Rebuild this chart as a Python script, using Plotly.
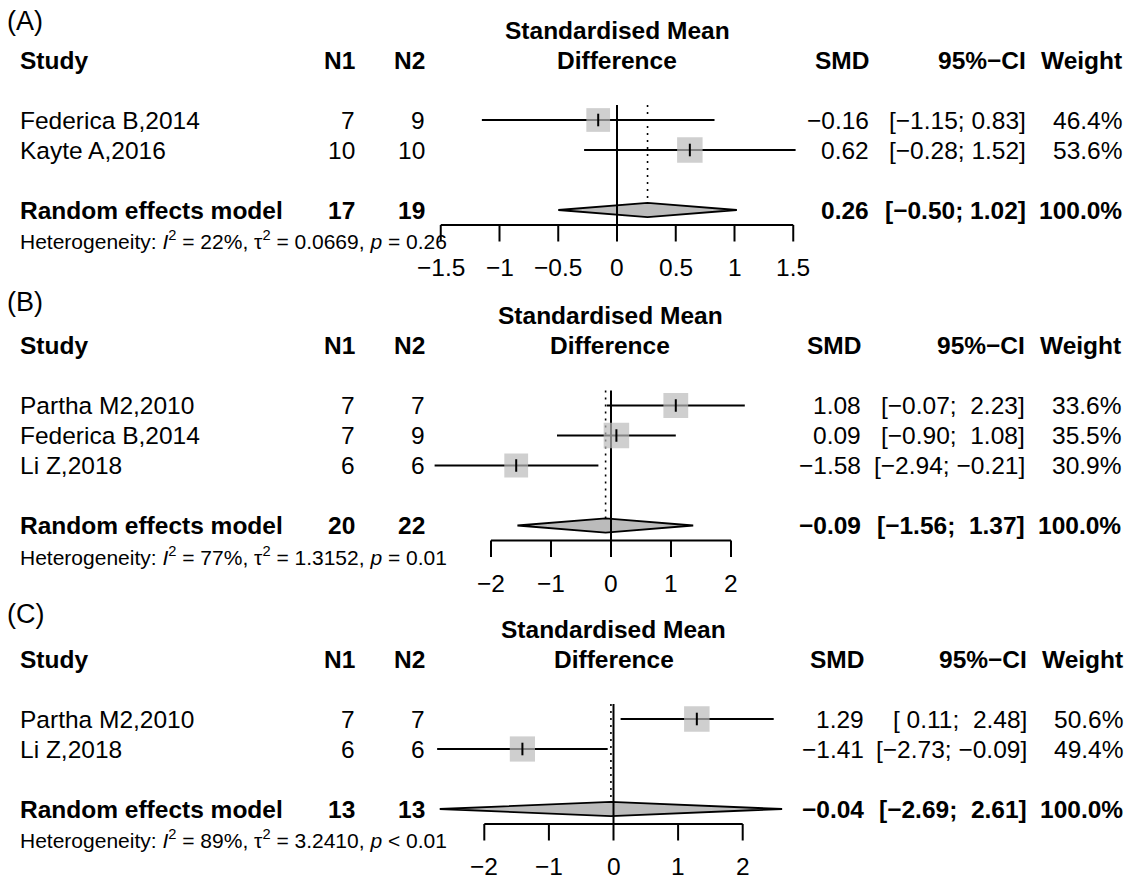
import plotly.graph_objects as go

# ---------------- data ----------------
# Panel A
a_studies = ["Federica B,2014", "Kayte A,2016"]
a_n1 = [7, 10]
a_n2 = [9, 10]
a_smd = [-0.16, 0.62]
a_lo = [-1.15, -0.28]
a_hi = [0.83, 1.52]
a_weight = [46.4, 53.6]
a_re = [0.26, -0.50, 1.02]
a_tot = [17, 19]
a_het = ["22%", "0.0669", "= 0.26"]
a_ticks = [-1.5, -1, -0.5, 0, 0.5, 1, 1.5]
a_ticklabels = ["−1.5", "−1", "−0.5", "0", "0.5", "1", "1.5"]

# Panel B
b_studies = ["Partha M2,2010", "Federica B,2014", "Li Z,2018"]
b_n1 = [7, 7, 6]
b_n2 = [7, 9, 6]
b_smd = [1.08, 0.09, -1.58]
b_lo = [-0.07, -0.90, -2.94]
b_hi = [2.23, 1.08, -0.21]
b_weight = [33.6, 35.5, 30.9]
b_re = [-0.09, -1.56, 1.37]
b_tot = [20, 22]
b_het = ["77%", "1.3152", "= 0.01"]
b_ticks = [-2, -1, 0, 1, 2]
b_ticklabels = ["−2", "−1", "0", "1", "2"]

# Panel C
c_studies = ["Partha M2,2010", "Li Z,2018"]
c_n1 = [7, 6]
c_n2 = [7, 6]
c_smd = [1.29, -1.41]
c_lo = [0.11, -2.73]
c_hi = [2.48, -0.09]
c_weight = [50.6, 49.4]
c_re = [-0.04, -2.69, 2.61]
c_tot = [13, 13]
c_het = ["89%", "3.2410", "< 0.01"]
c_ticks = [-2, -1, 0, 1, 2]
c_ticklabels = ["−2", "−1", "0", "1", "2"]

# ---------------- layout config ----------------
W, H = 1133, 882
ROW = 30.0
FONT = "Liberation Sans, Arial, sans-serif"
FS = 24.5
FS_HET = 21
FS_TAG = 27
GRAY = "#BBBBBB"
LW = 2.0

panels = [
    dict(tag="(A)", studies=a_studies, n1=a_n1, n2=a_n2, smd=a_smd, lo=a_lo, hi=a_hi,
         w=a_weight, re=a_re, tot=a_tot, het=a_het, ticks=a_ticks, tl=a_ticklabels,
         study_px=60, tag_px=21, zero_px=617, scale=117.5, center_px=617,
         smd_r=870, ci_r=1027, w_r=1123),
    dict(tag="(B)", studies=b_studies, n1=b_n1, n2=b_n2, smd=b_smd, lo=b_lo, hi=b_hi,
         w=b_weight, re=b_re, tot=b_tot, het=b_het, ticks=b_ticks, tl=b_ticklabels,
         study_px=345.5, tag_px=302, zero_px=611, scale=60.0, center_px=610,
         smd_r=862, ci_r=1026, w_r=1122),
    dict(tag="(C)", studies=c_studies, n1=c_n1, n2=c_n2, smd=c_smd, lo=c_lo, hi=c_hi,
         w=c_weight, re=c_re, tot=c_tot, het=c_het, ticks=c_ticks, tl=c_ticklabels,
         study_px=659, tag_px=614, zero_px=613.5, scale=64.6, center_px=613.5,
         smd_r=865, ci_r=1028, w_r=1124),
]
STUDY_X, N1_R, N2_R = 19, 356, 426
MAX_SQ = 25.5
TICKLAB_OFF = 1.92


def fmt(v, nd=2):
    s = f"{abs(v):.{nd}f}"
    return ("−" + s) if v < 0 else s


def ci_texts(lo, hi):
    any_neg_lo = any(v < 0 for v in lo)
    any_neg_hi = any(v < 0 for v in hi)
    out = []
    for l, h in zip(lo, hi):
        ls = fmt(l)
        hs = fmt(h)
        if any_neg_lo and l >= 0:
            ls = "\u00a0" + ls
        if any_neg_hi and h >= 0:
            hs = "\u00a0" + hs
        out.append(f"[{ls}; {hs}]")
    return out


fig = go.Figure()
annotations = []

for i, p in enumerate(panels):
    k = "" if i == 0 else str(i + 1)
    xa, ya = "x" + k, "y" + k
    n = len(p["studies"])
    rows = [2 + j for j in range(n)]
    re_row = rows[-1] + 2
    axis_row = re_row + 0.5

    # axes
    top_px = max(0.0, p["study_px"] - 75)
    bot_px = min(float(H), p["study_px"] + (re_row + 2.7) * ROW)
    fig.layout["xaxis" + k] = dict(domain=[0, 1], range=[(0 - p["zero_px"]) / p["scale"], (W - p["zero_px"]) / p["scale"]],
                                   visible=False, fixedrange=True, anchor=ya)
    fig.layout["yaxis" + k] = dict(domain=[1 - bot_px / H, 1 - top_px / H],
                                   range=[(bot_px - p["study_px"]) / ROW, (top_px - p["study_px"]) / ROW],
                                   visible=False, fixedrange=True, anchor=xa)

    est, rlo, rhi = p["re"]
    # diamond
    fig.add_trace(go.Scatter(x=[rlo, est, rhi, est, rlo], y=[re_row, re_row - 0.24, re_row, re_row + 0.24, re_row],
                             mode="lines", fill="toself", fillcolor=GRAY, line=dict(color="black", width=1.8),
                             xaxis=xa, yaxis=ya, hoverinfo="skip"))
    # zero line
    fig.add_trace(go.Scatter(x=[0, 0], y=[1.5, axis_row], mode="lines", line=dict(color="black", width=LW),
                             xaxis=xa, yaxis=ya, hoverinfo="skip"))
    # dotted RE line
    fig.add_trace(go.Scatter(x=[est, est], y=[1.5, re_row - 0.24], mode="lines",
                             line=dict(color="black", width=1.6, dash="2px,5px"),
                             xaxis=xa, yaxis=ya, hoverinfo="skip"))
    # CI lines
    cx, cy = [], []
    for r, l, h in zip(rows, p["lo"], p["hi"]):
        cx += [l, h, None]
        cy += [r, r, None]
    fig.add_trace(go.Scatter(x=cx, y=cy, mode="lines", line=dict(color="black", width=LW),
                             xaxis=xa, yaxis=ya, hoverinfo="skip"))
    # squares
    wmax = max(p["w"])
    sizes = [MAX_SQ * (w / wmax) ** 0.5 for w in p["w"]]
    fig.add_trace(go.Scatter(x=p["smd"], y=rows, mode="markers",
                             marker=dict(symbol="square", size=sizes, color=GRAY, line=dict(width=0)),
                             xaxis=xa, yaxis=ya, hoverinfo="skip"))
    fig.add_trace(go.Scatter(x=p["smd"], y=rows, mode="markers",
                             marker=dict(symbol="line-ns", size=9, line=dict(color="black", width=2)),
                             xaxis=xa, yaxis=ya, hoverinfo="skip"))
    # axis line + ticks
    fig.add_trace(go.Scatter(x=[p["ticks"][0], p["ticks"][-1]], y=[axis_row, axis_row], mode="lines",
                             line=dict(color="black", width=LW), xaxis=xa, yaxis=ya, hoverinfo="skip"))
    tx, ty = [], []
    for t in p["ticks"]:
        tx += [t, t, None]
        ty += [axis_row, axis_row + 0.55, None]
    fig.add_trace(go.Scatter(x=tx, y=ty, mode="lines", line=dict(color="black", width=LW),
                             xaxis=xa, yaxis=ya, hoverinfo="skip"))
    # tick labels (placed through the data axis)
    for t, lab in zip(p["ticks"], p["tl"]):
        annotations.append(dict(x=t, xref=xa, y=re_row + TICKLAB_OFF, yref=ya, text=lab, xanchor="center",
                                yanchor="middle", showarrow=False, borderpad=0,
                                font=dict(family=FONT, size=FS, color="black")))

    def txt(xpx, row, s, anchor, bold=False, size=FS):
        annotations.append(dict(x=xpx / W, xref="paper", y=row, yref=ya, text=(f"<b>{s}</b>" if bold else s),
                                xanchor=anchor, yanchor="middle", showarrow=False, borderpad=0,
                                font=dict(family=FONT, size=size, color="black")))

    # panel tag
    annotations.append(dict(x=6 / W, xref="paper", y=1 - p["tag_px"] / H, yref="paper", text=p["tag"],
                            xanchor="left", yanchor="middle", showarrow=False, borderpad=0,
                            font=dict(family=FONT, size=FS_TAG, color="black")))
    # headers
    txt(p["center_px"], -1, "Standardised Mean", "center", True)
    txt(p["center_px"], 0, "Difference", "center", True)
    txt(STUDY_X, 0, "Study", "left", True)
    txt(N1_R, 0, "N1", "right", True)
    txt(N2_R, 0, "N2", "right", True)
    txt(p["smd_r"], 0, "SMD", "right", True)
    txt(p["ci_r"], 0, "95%−CI", "right", True)
    txt(p["w_r"], 0, "Weight", "right", True)
    # study rows
    cis = ci_texts(p["lo"], p["hi"])
    for r, s, a, b, m, c, w in zip(rows, p["studies"], p["n1"], p["n2"], p["smd"], cis, p["w"]):
        txt(STUDY_X, r, s, "left")
        txt(N1_R, r, str(a), "right")
        txt(N2_R, r, str(b), "right")
        txt(p["smd_r"], r, fmt(m), "right")
        txt(p["ci_r"], r, c, "right")
        txt(p["w_r"], r, f"{w:.1f}%", "right")
    # RE row
    txt(STUDY_X, re_row, "Random effects model", "left", True)
    txt(N1_R, re_row, str(p["tot"][0]), "right", True)
    txt(N2_R, re_row, str(p["tot"][1]), "right", True)
    txt(p["smd_r"], re_row, fmt(est), "right", True)
    re_ci = ci_texts([rlo], [rhi])[0]
    if any(v < 0 for v in p["hi"]) and rhi >= 0:
        re_ci = re_ci.replace("; ", ";\u00a0\u00a0")
    txt(p["ci_r"], re_row, re_ci, "right", True)
    txt(p["w_r"], re_row, "100.0%", "right", True)
    # heterogeneity
    i2, tau2, pv = p["het"]
    het = (f"Heterogeneity: <i>I</i><sup>2</sup> = {i2}, τ<sup>2</sup> = {tau2}, <i>p</i> {pv}")
    txt(STUDY_X, re_row + 1.0, het, "left", False, FS_HET)

fig.update_layout(width=W, height=H, margin=dict(l=0, r=0, t=0, b=0), showlegend=False,
                  paper_bgcolor="white", plot_bgcolor="rgba(0,0,0,0)", annotations=annotations,
                  font=dict(family=FONT))
fig.write_html("out.html", config=dict(displayModeBar=False))
